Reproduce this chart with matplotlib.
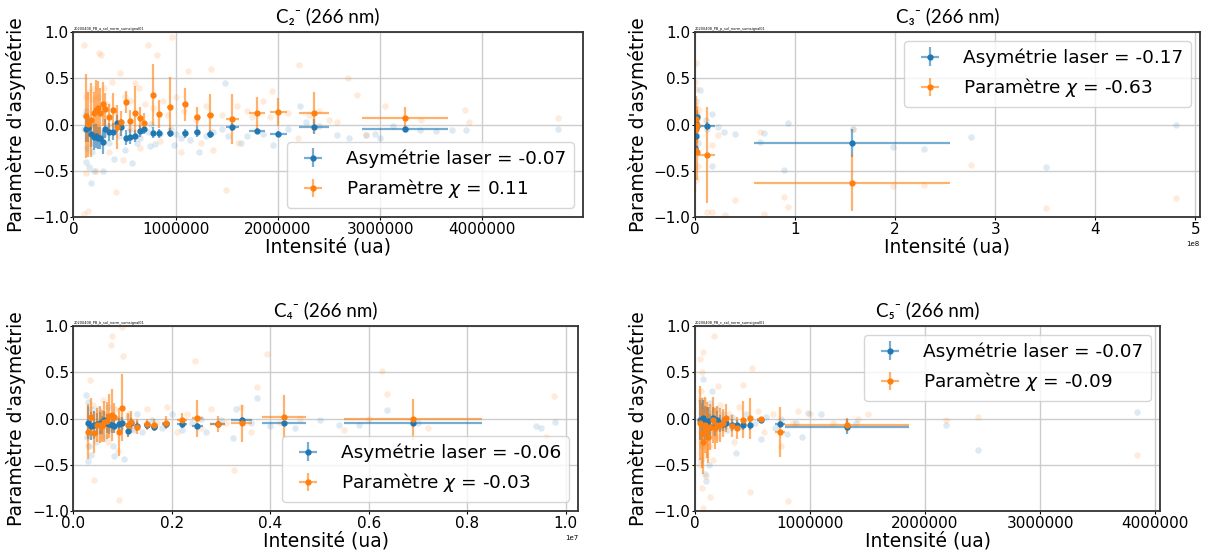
import matplotlib
matplotlib.use("Agg")
import matplotlib.pyplot as plt
from matplotlib.colors import to_rgba
from matplotlib.ticker import MultipleLocator

plt.rcParams.update({
    "font.family": "DejaVu Sans",
    "xtick.labelsize": 11,
    "ytick.labelsize": 11,
    "xtick.major.size": 2.5,
    "ytick.major.size": 2.5,
    "xtick.major.pad": 0.8,
    "ytick.major.pad": 0.8,
    "axes.labelsize": 13.5,
    "legend.fontsize": 13.3,
})

BLUE = "#1f77b4"
ORANGE = "#ff7f0e"

# ---- C2- : x in units of 1e6 ----
c2_x = [0.119, 0.142, 0.174, 0.197, 0.223, 0.243, 0.262, 0.289, 0.308, 0.347, 0.390, 0.423, 0.468, 0.511, 0.556,
        0.602, 0.648, 0.687, 0.778, 0.837, 0.941, 1.094, 1.211, 1.339, 1.554, 1.798, 2.004, 2.353, 3.247]
c2_xerr = [0.01, 0.01, 0.01, 0.01, 0.01, 0.01, 0.01, 0.01, 0.01, 0.012, 0.012, 0.012, 0.015, 0.015, 0.015,
           0.015, 0.015, 0.015, 0.02, 0.02, 0.025, 0.03, 0.03, 0.035, 0.065, 0.08, 0.085, 0.147, 0.42]
c2_laser = [-0.052, -0.041, -0.106, -0.139, -0.124, -0.142, -0.15, -0.185, -0.045, -0.081, -0.077, 0.013, -0.030,
            -0.142, -0.131, -0.124, -0.070, -0.045, -0.088, -0.096, -0.088, -0.096, -0.077, -0.103, -0.027,
            -0.067, -0.103, -0.023, -0.049]
c2_laser_err = [0.14, 0.15, 0.14, 0.14, 0.13, 0.12, 0.12, 0.13, 0.10, 0.10, 0.09, 0.09, 0.09, 0.08, 0.08, 0.07,
                0.07, 0.06, 0.06, 0.05, 0.05, 0.05, 0.06, 0.04, 0.04, 0.03, 0.03, 0.08, 0.03]
c2_chi = [0.092, 0.002, 0.049, 0.121, 0.157, 0.175, 0.121, 0.222, 0.164, 0.078, 0.157, -0.024, 0.024, 0.240,
          0.038, 0.128, 0.067, 0.013, 0.319, 0.110, 0.192, 0.218, 0.084, 0.103, 0.063, 0.121, 0.138, 0.128, 0.067]
c2_chi_err = [0.45, 0.35, 0.40, 0.23, 0.32, 0.30, 0.27, 0.24, 0.18, 0.14, 0.18, 0.24, 0.12, 0.12, 0.12, 0.29,
              0.12, 0.11, 0.34, 0.15, 0.32, 0.18, 0.10, 0.23, 0.27, 0.18, 0.15, 0.22, 0.12]
c2_raw_laser_x = [0.12, 0.11, 0.15, 0.13, 0.18, 0.12, 0.15, 0.20, 0.29, 0.17, 0.40, 0.50, 0.57, 0.62, 0.75, 0.80,
                  0.98, 1.14, 1.23, 1.37, 1.48, 1.51, 1.70, 1.64, 0.76, 0.73, 0.25, 0.30, 0.35, 0.45, 0.55, 0.65,
                  0.85, 0.95, 1.05, 1.30, 1.45, 1.85, 1.95, 2.10, 2.22, 2.28, 2.40, 2.58, 2.70, 2.86, 3.00, 3.13,
                  3.25, 3.39, 3.55, 3.70, 3.84, 4.74, 2.95, 1.00, 0.20, 0.22, 0.10]
c2_raw_laser_y = [0.15, 0.10, 0.05, -0.25, -0.30, -0.40, -0.46, -0.50, -0.50, -0.63, -0.37, -0.28, -0.42, -0.20,
                  -0.23, -0.21, -0.22, -0.17, -0.30, -0.08, 0.45, -0.12, -0.12, -0.20, 0.01, -0.08, -0.15, -0.10,
                  -0.20, -0.12, -0.05, -0.15, -0.10, -0.05, -0.15, -0.12, -0.05, -0.10, -0.22, -0.05, 0.20, 0.03,
                  -0.02, -0.11, -0.15, -0.11, -0.15, -0.02, -0.05, -0.06, -0.07, -0.06, -0.06, -0.05, -0.10,
                  -0.10, 0.00, -0.08, -0.05]
c2_raw_chi_x = [0.10, 0.25, 0.27, 0.38, 0.46, 0.73, 0.82, 0.96, 1.12, 1.35, 2.21, 2.69, 2.77, 1.94, 2.58, 3.83,
                3.87, 4.74, 2.86, 1.49, 0.12, 0.22, 0.42, 0.145, 0.10, 0.48, 0.12, 0.15, 0.18, 0.20, 0.24, 0.30,
                0.33, 0.40, 0.50, 0.55, 0.60, 0.64, 0.70, 0.78, 0.88, 0.92, 1.00, 1.08, 1.20, 1.30, 1.45, 1.60,
                1.70, 1.75, 1.85, 1.92, 2.10, 2.30, 2.40, 2.50, 2.20, 1.25, 0.85, 0.65, 0.35, 0.28, 0.16, 3.05,
                3.40, 1.05, 1.61, 1.37]
c2_raw_chi_y = [0.86, 0.77, 0.75, 0.46, 0.56, 0.86, 0.75, 0.95, 0.58, 0.60, 0.64, 0.50, 0.32, 0.36, 0.03, 0.16,
                0.03, 0.07, -0.11, -0.71, -0.52, -0.50, -0.73, -0.94, -0.97, -0.38, 0.30, 0.35, 0.28, 0.38, 0.30,
                0.40, 0.22, 0.15, 0.30, 0.25, 0.45, 0.40, 0.22, 0.18, 0.25, 0.10, 0.30, 0.15, 0.05, 0.20, 0.10,
                0.20, 0.15, 0.08, 0.25, 0.08, 0.12, 0.10, 0.15, 0.05, -0.15, -0.20, -0.18, -0.25, -0.30, -0.15,
                -0.20, 0.20, 0.05, -0.30, -0.20, -0.28]

# ---- C3- : x in units of 1e8 ----
c3_x = [0.004, 0.008, 0.012, 0.016, 0.025, 0.117, 1.565]
c3_xerr = [0.002, 0.002, 0.002, 0.002, 0.004, 0.088, 0.98]
c3_laser = [-0.25, -0.12, 0.02, 0.08, -0.02, -0.016, -0.197]
c3_laser_err = [0.08, 0.10, 0.08, 0.08, 0.06, 0.04, 0.15]
c3_chi = [-0.28, -0.05, 0.06, 0.0, -0.30, -0.333, -0.629]
c3_chi_err = [0.45, 0.20, 0.25, 0.20, 0.30, 0.52, 0.31]
c3_raw_laser_x = [0.05, 0.167, 0.11, 0.233, 0.293, 0.40, 0.65, 0.69, 0.93, 0.89, 1.575, 1.98, 2.29, 2.76, 3.51,
                  4.81, 0.167, 0.01, 0.02, 0.01, 0.03, 0.015, 0.12]
c3_raw_laser_y = [0.37, 0.11, 0.05, -0.03, -0.08, -0.10, -0.19, -0.09, 0.02, -0.49, -0.05, -0.24, -0.26, -0.13,
                  -0.46, -0.01, -0.45, 0.25, 0.10, -0.05, -0.20, -0.10, -0.05]
c3_raw_chi_x = [0.01, 0.005, 0.01, 0.043, 0.02, 0.117, 0.167, 0.30, 0.40, 0.65, 0.233, 0.167, 0.89, 0.93, 0.69,
                1.58, 1.98, 2.29, 2.76, 3.51, 4.81, 0.01, 0.02, 0.015, 0.03, 0.01]
c3_raw_chi_y = [0.67, 0.46, 0.38, 0.16, 0.10, -0.95, -0.95, -0.98, -0.82, -0.08, -0.11, -0.22, -0.78, -0.89,
                -0.97, -0.05, -0.66, -0.65, -0.44, -0.90, -0.79, 0.20, 0.05, -0.15, -0.45, -0.60]

# ---- C4- : x in units of 1e7 ----
c4_x = [0.030, 0.035, 0.042, 0.047, 0.053, 0.057, 0.063, 0.068, 0.073, 0.078, 0.082, 0.093, 0.098, 0.110, 0.117,
        0.130, 0.149, 0.164, 0.188, 0.221, 0.252, 0.293, 0.342, 0.428, 0.689]
c4_xerr = [0.002, 0.002, 0.002, 0.002, 0.002, 0.002, 0.002, 0.002, 0.002, 0.002, 0.002, 0.003, 0.003, 0.004,
           0.004, 0.005, 0.006, 0.007, 0.008, 0.01, 0.012, 0.015, 0.021, 0.045, 0.14]
c4_laser = [-0.045, -0.081, -0.07, -0.06, -0.052, -0.07, -0.016, -0.052, -0.063, -0.07, -0.081, -0.06, -0.052,
            -0.131, -0.052, -0.081, -0.07, -0.088, -0.063, -0.06, -0.081, -0.06, -0.016, -0.052, -0.052]
c4_laser_err = [0.18, 0.15, 0.15, 0.12, 0.12, 0.10, 0.10, 0.10, 0.10, 0.09, 0.08, 0.07, 0.07, 0.07, 0.06, 0.05,
                0.04, 0.04, 0.04, 0.04, 0.03, 0.03, 0.03, 0.03, 0.02]
c4_chi = [-0.142, 0.02, -0.153, -0.07, -0.07, -0.081, -0.034, -0.023, 0.027, 0.038, 0.013, -0.15, 0.117, -0.07,
          -0.04, -0.088, -0.06, -0.07, -0.045, -0.016, 0.002, -0.06, -0.052, 0.02, -0.009]
c4_chi_err = [0.30, 0.20, 0.22, 0.18, 0.20, 0.17, 0.22, 0.20, 0.24, 0.28, 0.15, 0.26, 0.36, 0.13, 0.12, 0.08,
              0.06, 0.07, 0.07, 0.08, 0.20, 0.09, 0.20, 0.23, 0.22]
c4_raw_laser_x = [0.025, 0.03, 0.035, 0.028, 0.032, 0.03, 0.035, 0.045, 0.05, 0.055, 0.06, 0.065, 0.07, 0.075,
                  0.08, 0.082, 0.09, 0.095, 0.102, 0.11, 0.12, 0.13, 0.14, 0.16, 0.18, 0.20, 0.22, 0.24, 0.27,
                  0.30, 0.325, 0.33, 0.372, 0.36, 0.40, 0.45, 0.54, 0.58, 0.636, 0.70, 0.94, 0.95, 0.978, 0.50,
                  0.26]
c4_raw_laser_y = [0.25, 0.18, 0.10, -0.20, -0.30, -0.46, -0.40, -0.25, 0.10, -0.15, 0.05, -0.20, 0.12, -0.10,
                  -0.30, -0.41, 0.00, -0.10, -0.44, 0.02, -0.12, 0.05, -0.15, -0.02, -0.10, 0.05, -0.12, -0.05,
                  -0.15, -0.02, -0.21, 0.10, 0.22, -0.05, -0.08, -0.10, -0.07, -0.07, 0.09, -0.05, -0.08, -0.10,
                  -0.035, -0.02, 0.00]
c4_raw_chi_x = [0.098, 0.078, 0.076, 0.101, 0.246, 0.393, 0.034, 0.373, 0.626, 0.636, 0.977, 0.042, 0.093, 0.327,
                0.03, 0.04, 0.05, 0.06, 0.07, 0.085, 0.09, 0.11, 0.12, 0.15, 0.17, 0.19, 0.21, 0.23, 0.26, 0.28,
                0.31, 0.34, 0.36, 0.42, 0.46, 0.55, 0.58, 0.72, 0.94, 0.96, 0.60]
c4_raw_chi_y = [0.99, 0.89, 0.80, 0.68, 0.62, 0.70, 0.42, 0.34, 0.51, 0.27, 0.24, -0.67, -0.88, -0.56, -0.30,
                0.15, -0.20, 0.20, -0.25, 0.10, -0.35, 0.05, -0.10, 0.10, -0.05, 0.12, -0.15, 0.05, -0.10, 0.10,
                -0.05, 0.12, -0.15, -0.05, 0.00, -0.12, -0.30, -0.10, -0.30, -0.20, 0.00]

# ---- C5- : x in units of 1e6 ----
c5_x = [0.043, 0.058, 0.072, 0.087, 0.101, 0.116, 0.130, 0.154, 0.174, 0.188, 0.217, 0.246, 0.270, 0.319, 0.362,
        0.420, 0.478, 0.571, 0.739, 1.319]
c5_xerr = [0.004, 0.004, 0.004, 0.005, 0.005, 0.005, 0.006, 0.006, 0.007, 0.007, 0.008, 0.009, 0.01, 0.012,
           0.014, 0.016, 0.018, 0.03, 0.04, 0.54]
c5_laser = [-0.016, -0.03, 0.002, -0.05, -0.034, -0.03, -0.088, 0.002, -0.09, -0.02, -0.052, -0.06, -0.045,
            -0.07, -0.07, -0.07, -0.07, -0.016, -0.06, -0.088]
c5_laser_err = [0.22, 0.20, 0.20, 0.18, 0.16, 0.15, 0.14, 0.12, 0.10, 0.10, 0.09, 0.08, 0.07, 0.06, 0.05, 0.05,
                0.05, 0.03, 0.03, 0.08]
c5_chi = [-0.052, -0.16, -0.25, -0.07, -0.124, -0.197, -0.088, -0.016, -0.106, -0.07, -0.07, -0.052, 0.002,
          -0.081, -0.106, -0.016, 0.002, -0.009, -0.15, -0.07]
c5_chi_err = [0.40, 0.38, 0.35, 0.30, 0.30, 0.28, 0.25, 0.25, 0.22, 0.20, 0.18, 0.15, 0.15, 0.12, 0.12, 0.20,
              0.22, 0.03, 0.27, 0.08]
c5_raw_laser_x = [3.846, 2.18, 2.46, 0.07, 0.57, 0.80, 0.75, 0.98, 0.13, 0.36, 0.09, 0.10, 0.12, 0.05, 0.06, 0.08,
                  0.11, 0.14, 0.16, 0.18, 0.21, 0.24, 0.28, 0.32, 0.40, 0.44, 0.52, 0.62, 0.70, 0.88, 0.93, 1.10,
                  1.40, 0.05, 0.15]
c5_raw_laser_y = [0.067, -0.07, -0.34, 0.43, -0.22, -0.17, 0.00, 0.06, 0.17, -0.37, -0.60, -0.68, -0.50, 0.20,
                  -0.30, 0.10, -0.20, 0.05, -0.15, 0.10, -0.10, 0.05, -0.12, 0.02, -0.08, 0.05, -0.05, 0.02,
                  -0.10, -0.05, -0.20, 0.05, -0.05, -0.45, 0.30]
c5_raw_chi_x = [0.165, 0.072, 0.043, 0.50, 0.42, 0.06, 2.18, 2.46, 3.846, 0.81, 0.478, 0.07, 0.058, 0.10, 1.42,
                1.00, 0.05, 0.08, 0.09, 0.12, 0.14, 0.16, 0.19, 0.22, 0.25, 0.30, 0.34, 0.38, 0.45, 0.55, 0.60,
                0.68, 0.75, 0.85, 0.90, 1.20, 1.50, 0.04, 0.13, 0.20]
c5_raw_chi_y = [0.89, 0.72, 0.64, 0.55, 0.36, 0.50, -0.016, 0.02, -0.40, -0.89, -0.80, -0.97, -0.75, -0.62, 0.00,
                0.05, 0.30, 0.20, -0.40, -0.30, 0.10, -0.45, -0.20, 0.15, -0.10, 0.05, -0.25, 0.12, -0.05, 0.08,
                -0.15, 0.05, -0.30, -0.05, 0.08, -0.05, 0.05, -0.50, -0.85, 0.35]

panels = [
    dict(name="C\u2082\u207b (266 nm)", scale=1e6, xlim=(0, 4.985e6), sci=False, legend="lower right",
         laser_label="Asymétrie laser = -0.07", chi_label=r"Paramètre $\chi$ = 0.11",
         tag="20200408_PB_a_sol_norm_sumsignal01",
         x=c2_x, xerr=c2_xerr, laser=c2_laser, laser_err=c2_laser_err, chi=c2_chi, chi_err=c2_chi_err,
         rlx=c2_raw_laser_x, rly=c2_raw_laser_y, rcx=c2_raw_chi_x, rcy=c2_raw_chi_y,
         rect=[0.0608, 0.6104, 0.4218, 0.3321]),
    dict(name="C\u2083\u207b (266 nm)", scale=1e8, xlim=(0, 5.045e8), sci=True, legend="upper right",
         laser_label="Asymétrie laser = -0.17", chi_label=r"Paramètre $\chi$ = -0.63",
         tag="20200408_PB_p_sol_norm_sumsignal01",
         x=c3_x, xerr=c3_xerr, laser=c3_laser, laser_err=c3_laser_err, chi=c3_chi, chi_err=c3_chi_err,
         rlx=c3_raw_laser_x, rly=c3_raw_laser_y, rcx=c3_raw_chi_x, rcy=c3_raw_chi_y,
         rect=[0.5753, 0.6104, 0.4180, 0.3321]),
    dict(name="C\u2084\u207b (266 nm)", scale=1e7, xlim=(0, 1.025e7), sci=True, legend="lower right",
         laser_label="Asymétrie laser = -0.06", chi_label=r"Paramètre $\chi$ = -0.03",
         tag="20200408_PB_b_sol_norm_sumsignal01",
         x=c4_x, xerr=c4_xerr, laser=c4_laser, laser_err=c4_laser_err, chi=c4_chi, chi_err=c4_chi_err,
         rlx=c4_raw_laser_x, rly=c4_raw_laser_y, rcx=c4_raw_chi_x, rcy=c4_raw_chi_y,
         rect=[0.0608, 0.0826, 0.4177, 0.3321]),
    dict(name="C\u2085\u207b (266 nm)", scale=1e6, xlim=(0, 4.043e6), sci=False, legend="upper right",
         laser_label="Asymétrie laser = -0.07", chi_label=r"Paramètre $\chi$ = -0.09",
         tag="20200408_PB_c_sol_norm_sumsignal01",
         x=c5_x, xerr=c5_xerr, laser=c5_laser, laser_err=c5_laser_err, chi=c5_chi, chi_err=c5_chi_err,
         rlx=c5_raw_laser_x, rly=c5_raw_laser_y, rcx=c5_raw_chi_x, rcy=c5_raw_chi_y,
         rect=[0.5753, 0.0826, 0.3850, 0.3321]),
]


def draw_panel(fig, p):
    ax = fig.add_axes(p["rect"])
    s = p["scale"]
    ax.scatter([v * s for v in p["rlx"]], p["rly"], s=22, color=BLUE, alpha=0.15, lw=0)
    ax.scatter([v * s for v in p["rcx"]], p["rcy"], s=22, color=ORANGE, alpha=0.15, lw=0)
    x = [v * s for v in p["x"]]
    xerr = [v * s for v in p["xerr"]]
    ax.errorbar(x, p["laser"], xerr=xerr, yerr=p["laser_err"], fmt="o", ms=3.5, color=BLUE,
                ecolor=to_rgba(BLUE, 0.6), elinewidth=1.6, capsize=0, label=p["laser_label"])
    ax.errorbar(x, p["chi"], xerr=xerr, yerr=p["chi_err"], fmt="o", ms=3.5, color=ORANGE,
                ecolor=to_rgba(ORANGE, 0.6), elinewidth=1.6, capsize=0, label=p["chi_label"])
    ax.set_xlim(*p["xlim"])
    ax.set_ylim(-1, 1)
    ax.set_yticks([-1.0, -0.5, 0.0, 0.5, 1.0])
    if p["sci"]:
        ax.ticklabel_format(axis="x", style="sci", scilimits=(0, 0))
        ax.xaxis.get_offset_text().set_fontsize(5)
    else:
        ax.xaxis.set_major_locator(MultipleLocator(1e6))
        ax.ticklabel_format(axis="x", style="plain")
    ax.grid(True, color="#cccccc", lw=1)
    ax.set_axisbelow(True)
    ax.set_xlabel("Intensité (ua)", labelpad=0.5)
    ax.set_ylabel("Paramètre d'asymétrie", labelpad=4)
    ax.set_title(p["name"], fontsize=13.5, family=["Lato", "DejaVu Sans"], pad=7)
    ax.text(0.0, 1.012, p["tag"], fontsize=2.5, transform=ax.transAxes)
    ax.legend(loc=p["legend"])
    for sp in ax.spines.values():
        sp.set_color("#333333")
        sp.set_linewidth(1.3)
    return ax


fig = plt.figure(figsize=(12.08, 5.57), dpi=100)
for p in panels:
    draw_panel(fig, p)
fig.savefig("out.png", dpi=100)
